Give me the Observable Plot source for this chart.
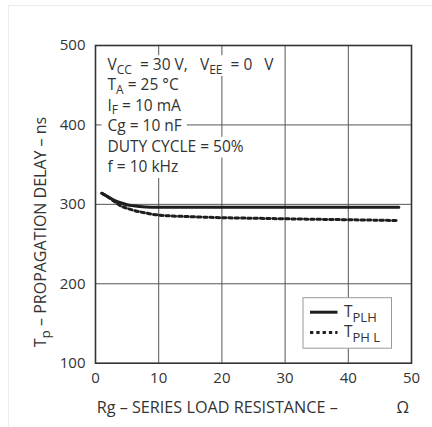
<!DOCTYPE html>
<html>
<head>
<meta charset="utf-8">
<script src="https://cdn.jsdelivr.net/npm/d3@7"></script>
<script src="https://cdn.jsdelivr.net/npm/@observablehq/plot@0.6"></script>
<style>
  html, body { margin: 0; padding: 0; background: #fff; }
  #chart svg { display: block; font-family: "Open Sans", sans-serif; }
</style>
</head>
<body>
<div id="chart"></div>
<script>
// ---- data ----
const rg   = [1, 2, 3, 4, 5, 6, 8, 10, 15, 20, 25, 30, 35, 40, 45, 48];
const tplh = [314, 309.5, 305, 302, 299.5, 298.2, 296.8, 296.4, 296.3, 296.3, 296.3, 296.3, 296.3, 296.3, 296.3, 296.3];
const tphl = [314, 309, 303.5, 298, 295, 292.5, 289, 286.5, 284.5, 283.2, 282.5, 281.8, 281.2, 280.6, 280, 279.6];
const xTicks = [0, 10, 20, 30, 40, 50];
const yTicks = [100, 200, 300, 400, 500];
const conditions = [
  "V_{CC}  = 30 V,   V_{EE}  = 0   V",
  "T_{A} = 25 °C",
  "I_{F} = 10 mA",
  "Cg = 10 nF",
  "DUTY CYCLE = 50%",
  "f = 10 kHz"
];
const seriesLabels = ["T_{PLH}", "T_{PH L}"];
const xLabel = "Rg – SERIES LOAD RESISTANCE –";
const xUnit = "Ω";
const yLabel = "T_{p} – PROPAGATION DELAY – ns";

const rows = [];
rg.forEach((r, i) => {
  rows.push({rg: r, tp: tplh[i], s: seriesLabels[0]});
  rows.push({rg: r, tp: tphl[i], s: seriesLabels[1]});
});

const FONT = '"Open Sans", sans-serif';
const INK = "#1e1e1e";
const TXT = "#333";
const SOLID = {stroke: INK, strokeWidth: 3};
const DOTTED = {stroke: INK, strokeWidth: 3, strokeDasharray: "3.3,3"};

const measureCtx = document.createElement("canvas").getContext("2d");
function measureRich(str, size, subSize) {
  let total = 0;
  str.split(/_\{([^}]*)\}/).forEach((p, i) => {
    measureCtx.font = (i % 2 ? subSize : size) + 'px "Open Sans", sans-serif';
    total += measureCtx.measureText(p).width;
  });
  return isFinite(total) && total > 0 ? total : str.length * 8;
}

function rich(sel, str, subSize, subDy) {
  const parts = str.split(/_\{([^}]*)\}/);
  let shifted = 0;
  parts.forEach((p, i) => {
    if (p === "") { return; }
    const t = sel.append("tspan").text(p);
    if (i % 2 === 1) {
      t.attr("font-size", subSize).attr("dy", subDy - shifted);
      shifted = subDy;
    } else if (shifted) {
      t.attr("dy", -shifted);
      shifted = 0;
    }
  });
  return sel;
}

function annotation(index, scales, values, dim) {
  const size = 15.5, sub = 12, lh = 20.4;
  const g = d3.create("svg:g").attr("text-anchor", "start");
  const x0 = dim.marginLeft + 12.5;
  conditions.forEach((c, i) => {
    const base = dim.marginTop + 25 + i * lh;
    g.append("rect").attr("x", x0 - 6).attr("y", base - 14.8)
      .attr("width", measureRich(c, size, sub) + 11).attr("height", lh + 0.4)
      .style("fill", "#fff").style("stroke", "none");
  });
  conditions.forEach((c, i) => {
    const t = g.append("text").attr("text-anchor", "start").style("white-space", "pre")
      .attr("font-size", size).attr("fill", TXT)
      .attr("x", x0).attr("y", dim.marginTop + 25 + i * lh);
    rich(t, c, sub, 3.5);
  });
  return g.node();
}

function legend(index, scales, values, dim) {
  const g = d3.create("svg:g").attr("text-anchor", "start");
  const right = dim.width - dim.marginRight - 19.5;
  const bottom = dim.height - dim.marginBottom - 14.5;
  const w = 88.5, h = 50.5;
  g.append("rect").attr("x", right - w).attr("y", bottom - h).attr("width", w).attr("height", h)
    .style("fill", "#fff").attr("stroke", "#999").attr("stroke-width", 1);
  const styles = [SOLID, DOTTED];
  seriesLabels.forEach((lab, i) => {
    const y = bottom - h + 14.5 + i * 20.3;
    const l = g.append("line").attr("x1", right - w + 7).attr("x2", right - w + 34.5)
      .attr("y1", y).attr("y2", y)
      .attr("stroke", INK).attr("stroke-width", 3);
    if (styles[i].strokeDasharray) l.attr("stroke-dasharray", styles[i].strokeDasharray);
    const t = g.append("text").attr("x", right - w + 41).attr("y", y + 4.5)
      .attr("text-anchor", "start").attr("font-size", 15.5).attr("fill", TXT).style("white-space", "pre");
    rich(t, lab, 13, 5);
  });
  return g.node();
}

function labels(index, scales, values, dim) {
  const g = d3.create("svg:g").attr("fill", TXT);
  // faint outer border of the original figure
  g.append("path").attr("d", `M8.5,${dim.height} V5.5 H${dim.width}`)
    .attr("fill", "none").attr("stroke", "#ececec");
  const base = dim.height - 13.7;
  g.append("text").attr("x", dim.marginLeft + 1.7).attr("y", base)
    .attr("text-anchor", "start").attr("font-size", 16.2).text(xLabel);
  g.append("text").attr("x", dim.width - dim.marginRight - 8.3).attr("y", base)
    .attr("font-size", 16).attr("text-anchor", "middle").text(xUnit);
  const yl = g.append("text").attr("transform", `translate(46,232) rotate(-90)`)
    .attr("text-anchor", "middle").attr("font-size", 16);
  rich(yl, yLabel, 13.5, 4);
  return g.node();
}

const chart = Plot.plot({
  width: 432,
  height: 427,
  marginLeft: 95,
  marginRight: 21,
  marginTop: 45,
  marginBottom: 64.3,
  style: {fontFamily: FONT, fontSize: "15px", color: TXT, background: "white"},
  x: {domain: [0, 50], ticks: xTicks, label: null},
  y: {domain: [100, 500], ticks: yTicks, label: null},
  marks: [
    Plot.gridX(xTicks.slice(1, -1), {stroke: "#555", strokeOpacity: 1, strokeWidth: 1}),
    Plot.gridY(yTicks.slice(1, -1), {stroke: "#555", strokeOpacity: 1, strokeWidth: 1}),
    annotation,
    Plot.line(rows.filter(d => d.s === seriesLabels[1]), {x: "rg", y: "tp", curve: "monotone-x", ...DOTTED}),
    Plot.line(rows.filter(d => d.s === seriesLabels[0]), {x: "rg", y: "tp", curve: "monotone-x", ...SOLID}),
    legend,
    Plot.axisX(xTicks, {tickSize: 0, tickPadding: 9, fontSize: 15, fill: TXT}),
    Plot.axisY(yTicks, {tickSize: 0, tickPadding: 10, fontSize: 15, fill: TXT}),
    Plot.frame({stroke: "#333", strokeWidth: 1.6}),
    labels
  ]
});
document.getElementById("chart").append(chart);
</script>
</body>
</html>
